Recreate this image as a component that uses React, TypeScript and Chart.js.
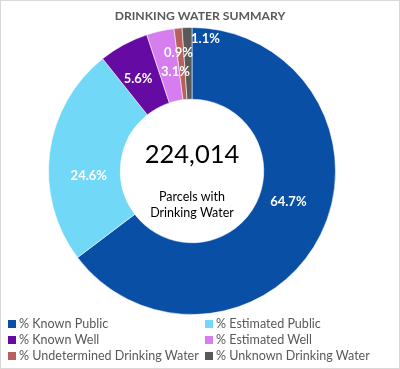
import React, { useEffect, useRef } from "react";
import { Chart, registerables } from "chart.js";
Chart.register(...registerables);

const categories = [
  "% Known Public",
  "% Estimated Public",
  "% Known Well",
  "% Estimated Well",
  "% Undetermined Drinking Water",
  "% Unknown Drinking Water",
];
const values = [64.7, 24.6, 5.6, 3.1, 0.9, 1.1];
const colors = ["#0A4FA6", "#72D8F8", "#650BA3", "#D67EF0", "#B8605C", "#595959"];
const totalLabel = "224,014";
const centerLines = ["Parcels with", "Drinking Water"];
const titleText = "DRINKING WATER SUMMARY";

const FONT = "Lato, 'Open Sans', sans-serif";

// per-slice label placement tweaks (radius factor between inner/outer, shifts)
const labelRadius = [0.5, 0.45, 0.46, 0.42, 0.65, 0.85];
const labelDx = [0, 0, -4, 6, -2, 18];
const labelDy = [-17, 18, 0, 0, 0, 0];

const labelPlugin = {
  id: "sliceLabels",
  afterDatasetsDraw(chart: any) {
    const ctx = chart.ctx;
    const meta = chart.getDatasetMeta(0);
    ctx.save();
    ctx.fillStyle = "#ffffff";
    ctx.font = `bold 13px ${FONT}`;
    ctx.textAlign = "center";
    ctx.textBaseline = "middle";
    meta.data.forEach((arc: any, i: number) => {
      const p = arc.getProps(["x", "y", "startAngle", "endAngle", "innerRadius", "outerRadius"], true);
      const mid = (p.startAngle + p.endAngle) / 2;
      const r = p.innerRadius + (p.outerRadius - p.innerRadius) * labelRadius[i];
      const x = p.x + Math.cos(mid) * r + labelDx[i];
      const y = p.y + Math.sin(mid) * r + labelDy[i];
      ctx.fillText(values[i].toFixed(1) + "%", x, y);
    });
    ctx.restore();
  },
};

export default function App() {
  const ref = useRef<HTMLCanvasElement>(null);
  useEffect(() => {
    document.body.style.margin = "0";
    const chart = new Chart(ref.current!, {
      type: "doughnut",
      data: {
        labels: categories,
        datasets: [
          {
            data: values,
            backgroundColor: colors,
            borderColor: "rgba(255,255,255,0.55)",
            borderWidth: 1,
          },
        ],
      },
      options: {
        responsive: false,
        animation: false,
        cutout: "50%",
        layout: { padding: { left: 48, right: 64, top: 27, bottom: 54 } },
        plugins: {
          legend: { display: false },
          title: { display: false },
          tooltip: { enabled: false },
        },
      },
      plugins: [labelPlugin],
    });
    let alive = true;
    (document as any).fonts
      .load(`bold 13px Lato`)
      .then(() => {
        if (alive) chart.draw();
      })
      .catch(() => {});
    return () => {
      alive = false;
      chart.destroy();
    };
  }, []);

  const legendPos = [
    [8, 324],
    [205, 324],
    [8, 340],
    [205, 340],
    [8, 356],
    [205, 356],
  ];

  return (
    <div
      style={{
        position: "absolute",
        left: 0,
        top: 0,
        width: 400,
        height: 369,
        fontFamily: FONT,
        boxSizing: "border-box",
        border: "1px solid #d9d9d9",
        background: "#fff",
      }}
    >
      <canvas ref={ref} width={400} height={369} style={{ position: "absolute", left: -1, top: -1 }} />
      <div
        style={{
          position: "absolute",
          left: 0,
          width: 398,
          top: 7,
          textAlign: "center",
          fontWeight: "bold",
          fontSize: 12.2,
          color: "#595959",
        }}
      >
        {titleText}
      </div>
      <div
        style={{
          position: "absolute",
          left: 111,
          width: 160,
          top: 136,
          textAlign: "center",
          fontSize: 25.5,
          color: "#000",
          lineHeight: "32px",
        }}
      >
        {totalLabel}
      </div>
      <div
        style={{
          position: "absolute",
          left: 111,
          width: 160,
          top: 188,
          textAlign: "center",
          fontSize: 12.5,
          color: "#000",
          lineHeight: "16px",
        }}
      >
        {centerLines.map((l) => (
          <div key={l}>{l}</div>
        ))}
      </div>
      {categories.map((c, i) => (
        <div
          key={c}
          style={{
            position: "absolute",
            left: legendPos[i][0] - 1,
            top: legendPos[i][1] - 9,
            display: "flex",
            alignItems: "center",
            fontSize: 12.55,
            color: "#595959",
            whiteSpace: "nowrap",
            lineHeight: "16px",
          }}
        >
          <span
            style={{
              display: "inline-block",
              width: 8,
              height: 8,
              background: colors[i],
              marginRight: 3,
            }}
          />
          {c}
        </div>
      ))}
    </div>
  );
}
